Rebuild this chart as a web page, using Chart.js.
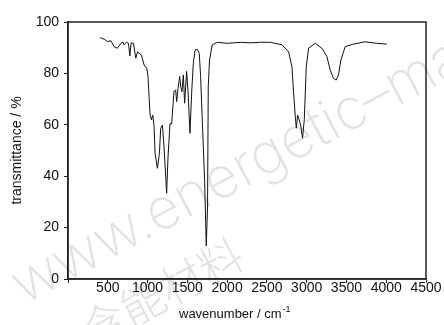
<!DOCTYPE html>
<html>
<head>
<meta charset="utf-8">
<script src="https://cdn.jsdelivr.net/npm/chart.js@4"></script>
<style>
  body { margin: 0; background: #fff; }
  #wrap { width: 444px; height: 325px; }
</style>
</head>
<body>
<div id="wrap"><canvas id="ir" width="444" height="325"></canvas></div>
<script>
// IR spectrum
const wavenumbers = [405, 455, 497, 539, 580, 622, 664, 689, 706, 735,
  760, 777, 794, 823, 852, 873, 894, 923, 956, 990,
  1006, 1019, 1032, 1049, 1065, 1082, 1094, 1124, 1149, 1165,
  1187, 1207, 1240, 1257, 1282, 1303, 1332, 1353, 1366, 1383,
  1404, 1416, 1432, 1450, 1466, 1491, 1508, 1533, 1554, 1575,
  1596, 1625, 1650, 1667, 1688, 1717, 1738, 1754, 1763, 1779,
  1813, 1876, 2001, 2168, 2293, 2419, 2544, 2690, 2773, 2815,
  2836, 2857, 2870, 2886, 2907, 2928, 2948, 2970, 2995, 3024,
  3108, 3191, 3254, 3296, 3337, 3371, 3400, 3430, 3484, 3588,
  3734, 3881, 4006];
const transmittance = [93.9, 93.3, 92.4, 92.7, 90.4, 89.8, 91.7, 92.2, 91.1, 92.1,
  91.7, 86.8, 91.9, 91.7, 85.9, 88.4, 87.8, 87.2, 83.3, 82,
  78.7, 70.9, 63.8, 61.9, 63.8, 59.3, 48.9, 43.1, 48.9, 58.6,
  59.9, 51.4, 33.4, 47.4, 60.4, 60.4, 72.9, 73.6, 69, 74.2,
  78.8, 75, 72.9, 79.4, 68.4, 80.8, 73.6, 56.7, 72.3, 83.9,
  89, 89.4, 87.8, 78.8, 61.9, 38.4, 12.9, 28.1, 74.9, 85.2,
  91.1, 92.1, 91.7, 92.1, 91.9, 92.1, 92.1, 91.1, 88.4, 82.6,
  72.3, 63.2, 58.7, 63.8, 61.9, 59.3, 54.8, 61.9, 82.6, 89.8,
  91.7, 89.8, 86.6, 81.3, 78.1, 77.4, 79.4, 85.2, 90.4, 91.4,
  92.3, 91.7, 91.4];

const xRange = [0, 4500];
const xStep = 500;
const yRange = [0, 100];
const yStep = 20;
const xTitle = 'wavenumber / cm';
const xTitleSup = '-1';
const yTitle = 'transmittance / %';
const watermark = 'www.energetic–materials';
const watermarkCn = '含能材料';

const points = wavenumbers.map((w, i) => ({ x: w, y: transmittance[i] }));

const FONT = 'Liberation Sans, Arial, sans-serif';

// frame, titles and the grey watermark
const extras = {
  id: 'extras',
  beforeDraw(chart) {
    const ctx = chart.ctx;
    ctx.save();
    ctx.fillStyle = '#fff';
    ctx.fillRect(0, 0, chart.width, chart.height);
    ctx.fillStyle = '#e2e2e2';
    ctx.font = '200 57px Inter, "Open Sans", sans-serif';
    ctx.translate(24, 305);
    ctx.rotate(-28 * Math.PI / 180);
    ctx.fillText(watermark, 0, 0);
    ctx.font = '200 44px "Noto Sans CJK SC"';
    ctx.fillText(watermarkCn, 40, 70);
    ctx.restore();
  },
  afterDraw(chart) {
    const ctx = chart.ctx;
    const a = chart.chartArea;
    ctx.save();
    ctx.strokeStyle = '#222';
    ctx.lineWidth = 1.5;
    ctx.strokeRect(a.left, a.top, a.right - a.left, a.bottom - a.top);

    ctx.fillStyle = '#111';
    ctx.font = '13px ' + FONT;
    ctx.textBaseline = 'alphabetic';
    ctx.textAlign = 'left';
    const tx = 179, ty = 318;
    ctx.fillText(xTitle, tx, ty);
    const w = ctx.measureText(xTitle).width;
    ctx.font = '9px ' + FONT;
    ctx.fillText(xTitleSup, tx + w + 1, ty - 6);

    ctx.font = '14px ' + FONT;
    ctx.textAlign = 'center';
    ctx.textBaseline = 'middle';
    ctx.translate(17.5, (a.top + a.bottom) / 2);
    ctx.rotate(-Math.PI / 2);
    ctx.fillText(yTitle, 0, 0);
    ctx.restore();
  }
};

new Chart(document.getElementById('ir'), {
  type: 'scatter',
  data: {
    datasets: [{
      data: points,
      showLine: true,
      borderColor: '#111',
      borderWidth: 1,
      pointRadius: 0,
      tension: 0
    }]
  },
  options: {
    responsive: false,
    animation: false,
    layout: { padding: { top: 22, right: 18, left: 0, bottom: 0 } },
    plugins: { legend: { display: false }, tooltip: { enabled: false } },
    scales: {
      x: {
        type: 'linear',
        min: xRange[0],
        max: xRange[1],
        afterFit: s => { s.height = 46; },
        border: { display: true, color: '#222', width: 1.5 },
        grid: { drawOnChartArea: false, tickLength: 4, color: '#222' },
        ticks: {
          stepSize: xStep,
          color: '#111',
          font: { family: FONT, size: 14 },
          padding: -3,
          maxRotation: 0,
          autoSkip: false,
          callback: v => (v === 0 ? '' : v)
        }
      },
      y: {
        min: yRange[0],
        max: yRange[1],
        afterFit: s => { s.width = 68; },
        border: { display: true, color: '#222', width: 1.5 },
        grid: { drawOnChartArea: false, tickLength: 4, color: '#222' },
        ticks: {
          stepSize: yStep,
          color: '#111',
          font: { family: FONT, size: 14 },
          padding: 5
        }
      }
    }
  },
  plugins: [extras]
});
</script>
</body>
</html>
